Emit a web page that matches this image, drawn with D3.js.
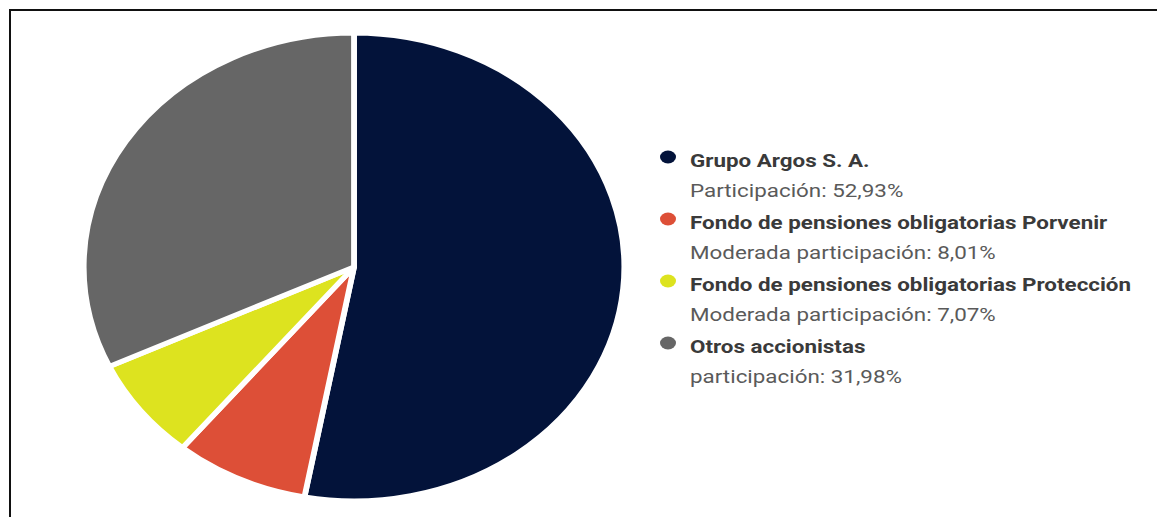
<!DOCTYPE html>
<html>
<head>
<meta charset="utf-8">
<script src="https://cdn.jsdelivr.net/npm/d3@7"></script>
<style>
  body { margin: 0; background: #fff; }
  svg { display: block; }
</style>
</head>
<body>
<div id="chart"></div>
<script>
// datos de accionistas
const names = [
  "Grupo Argos S. A.",
  "Fondo de pensiones obligatorias Porvenir",
  "Fondo de pensiones obligatorias Protección",
  "Otros accionistas"
];
const labels = [
  "Participación: 52,93%",
  "Moderada participación: 8,01%",
  "Moderada participación: 7,07%",
  "participación: 31,98%"
];
const values = [52.93, 8.01, 7.07, 31.98];
const colors = ["#03133a", "#dd4f37", "#dde31f", "#666666"];

function drawChart() {
  const width = 1157;
  const height = 517;
  const stretch = 268 / 232; // la imagen original esta estirada en horizontal
  const textStretch = 1.28;

  const svg = d3.select("#chart")
    .append("svg")
    .attr("width", width)
    .attr("height", height)
    .attr("viewBox", [0, 0, width, height]);

  // marco
  svg.append("line")
    .attr("x1", 9).attr("x2", width)
    .attr("y1", 10).attr("y2", 10)
    .attr("stroke", "#111").attr("stroke-width", 2);
  svg.append("line")
    .attr("x1", 10).attr("x2", 10)
    .attr("y1", 9).attr("y2", height)
    .attr("stroke", "#111").attr("stroke-width", 2);

  const pie = d3.pie().sort(null).value(d => d);
  const arc = d3.arc().innerRadius(0).outerRadius(234);

  const g = svg.append("g")
    .attr("transform", `translate(354,267) scale(${stretch},1)`);

  g.selectAll("path")
    .data(pie(values))
    .join("path")
    .attr("d", arc)
    .attr("fill", (d, i) => colors[i])
    .attr("stroke", "#fff")
    .attr("stroke-width", 5)
    .attr("stroke-linejoin", "round");

  // leyenda
  const y = d3.scaleLinear().domain([0, 1]).range([0, 62]);
  const legend = svg.append("g").attr("transform", "translate(690,0)");

  const item = legend.selectAll("g")
    .data(names)
    .join("g")
    .attr("transform", (d, i) => `translate(0,${y(i)})`);

  item.append("ellipse")
    .attr("cx", -22)
    .attr("cy", 157)
    .attr("rx", 8)
    .attr("ry", 6.5)
    .attr("fill", (d, i) => colors[i]);

  item.append("text")
    .attr("x", 0)
    .attr("y", 167)
    .attr("font-family", "Roboto, sans-serif")
    .attr("font-weight", "bold")
    .attr("font-size", 17.5)
    .attr("fill", "#3a3a3a")
    .text(d => d)
    .attr("transform", `scale(${textStretch},1)`);

  item.append("text")
    .attr("x", 0)
    .attr("y", 197)
    .attr("font-family", "Roboto, sans-serif")
    .attr("font-size", 17.5)
    .attr("fill", "#5a5a5a")
    .text((d, i) => labels[i])
    .attr("transform", `scale(${textStretch},1)`);
}

document.addEventListener('DOMContentLoaded', () => {
  drawChart();
});
</script>
</body>
</html>
